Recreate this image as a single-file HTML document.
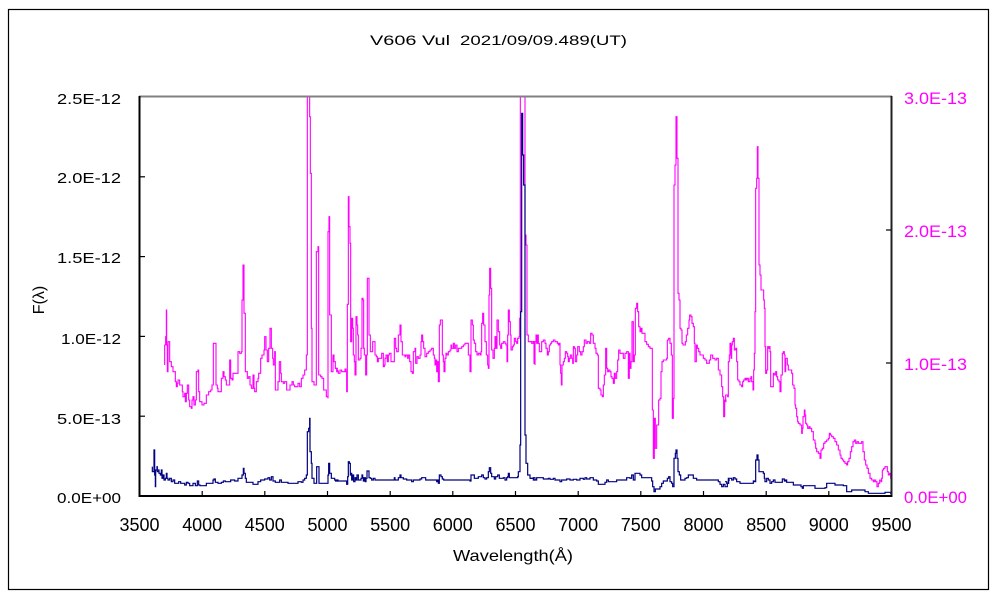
<!DOCTYPE html>
<html>
<head>
<meta charset="utf-8">
<style>
html,body{margin:0;padding:0;background:#fff;}
svg{display:block;}
text{font-family:"Liberation Sans","Noto Sans CJK JP",sans-serif;}
</style>
</head>
<body>
<svg width="1000" height="600" viewBox="0 0 1000 600" xmlns="http://www.w3.org/2000/svg">
<rect x="0" y="0" width="1000" height="600" fill="#fff"/>
<rect x="8.5" y="9.5" width="980" height="580" fill="none" stroke="#000" stroke-width="1.2"/>

<!-- Title -->
<text x="370" y="45" font-size="14" textLength="80" lengthAdjust="spacingAndGlyphs" fill="#000">V606 Vul</text>
<text x="460" y="45" font-size="14" textLength="167" lengthAdjust="spacingAndGlyphs" fill="#000">2021/09/09.489(UT)</text>

<!-- Left axis labels -->
<g font-size="15" fill="#000" text-anchor="end">
<text x="121" y="104" textLength="64" lengthAdjust="spacingAndGlyphs">2.5E-12</text>
<text x="121" y="183" textLength="64" lengthAdjust="spacingAndGlyphs">2.0E-12</text>
<text x="121" y="263" textLength="64" lengthAdjust="spacingAndGlyphs">1.5E-12</text>
<text x="121" y="344" textLength="60" lengthAdjust="spacingAndGlyphs">1.0E-12</text>
<text x="121" y="424" textLength="64" lengthAdjust="spacingAndGlyphs">5.0E-13</text>
<text x="121" y="503" textLength="64" lengthAdjust="spacingAndGlyphs">0.0E+00</text>
</g>

<!-- Right axis labels -->
<g font-size="17" fill="#ff00ff">
<text x="904" y="104" textLength="63" lengthAdjust="spacingAndGlyphs">3.0E-13</text>
<text x="904" y="237" textLength="63" lengthAdjust="spacingAndGlyphs">2.0E-13</text>
<text x="904" y="370" textLength="63" lengthAdjust="spacingAndGlyphs">1.0E-13</text>
<text x="904" y="503" textLength="63" lengthAdjust="spacingAndGlyphs">0.0E+00</text>
</g>

<!-- X axis labels -->
<g font-size="18" fill="#000" text-anchor="middle">
<text x="139.5" y="531" textLength="40" lengthAdjust="spacingAndGlyphs">3500</text>
<text x="202.2" y="531" textLength="40" lengthAdjust="spacingAndGlyphs">4000</text>
<text x="264.8" y="531" textLength="40" lengthAdjust="spacingAndGlyphs">4500</text>
<text x="327.5" y="531" textLength="40" lengthAdjust="spacingAndGlyphs">5000</text>
<text x="390.2" y="531" textLength="40" lengthAdjust="spacingAndGlyphs">5500</text>
<text x="452.8" y="531" textLength="40" lengthAdjust="spacingAndGlyphs">6000</text>
<text x="515.5" y="531" textLength="40" lengthAdjust="spacingAndGlyphs">6500</text>
<text x="578.2" y="531" textLength="40" lengthAdjust="spacingAndGlyphs">7000</text>
<text x="640.8" y="531" textLength="40" lengthAdjust="spacingAndGlyphs">7500</text>
<text x="703.5" y="531" textLength="40" lengthAdjust="spacingAndGlyphs">8000</text>
<text x="766.2" y="531" textLength="40" lengthAdjust="spacingAndGlyphs">8500</text>
<text x="828.8" y="531" textLength="40" lengthAdjust="spacingAndGlyphs">9000</text>
<text x="891.5" y="531" textLength="40" lengthAdjust="spacingAndGlyphs">9500</text>
</g>

<!-- Axis titles -->
<text x="453" y="561" font-size="16" fill="#000" textLength="120" lengthAdjust="spacingAndGlyphs">Wavelength(Å)</text>
<text transform="translate(44,300) rotate(-90)" x="0" y="0" font-size="16" fill="#000" text-anchor="middle">F(λ)</text>

<defs>
<clipPath id="pc"><rect x="140" y="97" width="751" height="399"/></clipPath>
</defs>

<g clip-path="url(#pc)" fill="none" stroke-linejoin="miter">
<!-- Segment 1 -->
<g transform="translate(138,95) scale(0.33333)">
<path vector-effect="non-scaling-stroke" stroke="#ff00ff" stroke-width="1.1" d="M80 810 V750 H83 V725 H85 V645 H86 V750 H88 V830 H90 V740 H95 V800 H100 V815 H105 V830 H110 V830 H112 V860 H115 V875 H118 V865 H120 V855 H125 V870 H130 V870 H133 V890 H135 V905 H140 V895 H142 V920 H145 V895 H148 V870 H152 V915 H155 V935 H160 V940 H162 V915 H165 V905 H168 V930 H172 V915 H175 V830 H180 V825 H182 V890 H185 V920 H192 V930 H198 V925 H205 V900 H212 V890 H218 V885 H222 V870 H226 V745 H232 V745 H234 V870 H238 V880 H240 V890 H248 V890 H250 V850 H255 V830 H258 V845 H262 V855 H265 V870 H272 V870 H275 V795 H278 V850 H282 V855 H285 V835 H292 V835 H300 V770 H305 V775 H310 V770 H312 V615 H315 V510 H318 V655 H322 V830 H328 V850 H332 V845 H336 V870 H340 V880 H345 V840 H348 V880 H350 V890 H355 V860 H360 V850 H362 V835 H368 V790 H372 V780 H378 V765 H380 V725 H384 V765 H388 V800 H392 V760 H396 V700 H400 V760 H404 V790 H406 V810 H410 V770 H412 V885 H418 V885 H420 V860 H424 V800 H428 V835 H430 V860 H436 V865 H440 V860 H446 V885 H452 V885 H456 V870 H462 V860 H466 V870 H470 V875 H480 V865 H485 V875 H490 V850 H495 V840 H500 V825 H505 V780 H508 V-10 H515 V65 H517 V235 H520 V700 H522 V860 H528 V870 H532 V870 H535 V470 H540 V455 H542 V840 H548 V845 H552 V850 H557 V885 H562 V885 H565 V905 H570 V910 V410 H573 V365 H575 V660 H580 V830 H585 V780 H588 V800 H592 V820 H598 V830 H600 V825"/>
<path vector-effect="non-scaling-stroke" stroke="#000080" stroke-width="1.2" d="M43 1115 V1130 H47 V1130 H48 V1065 H50 V1140 H52 V1175 H53 V1125 H57 V1115 H58 V1130 H62 V1125 H63 V1135 H67 V1140 H70 V1125 H72 V1150 H75 V1140 H78 V1155 H82 V1150 H85 V1135 H87 V1150 H90 V1155 H95 V1150 H100 V1160 H105 V1155 H110 V1165 H122 V1160 H128 V1165 H140 V1170 H145 V1162 H150 V1165 H155 V1172 H165 V1165 H172 V1172 H178 V1158 H182 V1170 H186 V1172 H205 V1165 H225 V1155 H228 V1152 H232 V1162 H240 V1165 H250 V1162 H256 V1158 H262 V1160 H278 V1155 H290 V1158 H300 V1150 H312 V1140 H316 V1120 H318 V1135 H322 V1150 H325 V1162 H345 V1168 H360 V1160 H368 V1155 H380 V1152 H390 V1148 H395 V1155 H400 V1145 H405 V1158 H412 V1162 H425 V1155 H430 V1162 H450 V1165 H480 V1160 H490 V1162 H495 V1155 H500 V1150 H505 V1140 H508 V1010 H512 V1000 H515 V970 H516 V1070 H520 V1105 H522 V1150 H528 V1165 H536 V1115 H542 V1115 H543 V1165 H570 V1140 H572 V1105 H575 V1135 H580 V1150 H590 V1155 H600 V1160"/>
</g>
<!-- Segment 2 -->
<g transform="translate(335,95) scale(0.33333)">
<path vector-effect="non-scaling-stroke" stroke="#ff00ff" stroke-width="1.1" d="M0 820 H5 V830 H10 V835 H15 V825 H20 V830 H30 V822 H33 V830 H35 V890 H37 V628 H40 V305 H42 V395 H45 V445 H47 V740 H50 V670 H53 V700 H55 V780 H58 V800 H60 V840 H63 V665 H66 V690 H68 V720 H70 V795 H75 V790 H78 V760 H81 V610 H84 V615 H86 V760 H88 V780 H92 V840 H95 V780 H97 V550 H100 V550 H102 V720 H106 V770 H113 V740 H117 V740 H120 V780 H124 V785 H127 V800 H130 V790 H140 V775 H145 V815 H148 V810 H150 V790 H153 V780 H157 V800 H160 V780 H163 V775 H168 V800 H178 V730 H182 V760 H185 V770 H190 V720 H195 V690 H198 V740 H202 V780 H210 V785 H213 V780 H218 V790 H220 V780 H224 V800 H228 V830 H232 V835 H235 V770 H240 V760 H242 V805 H246 V785 H250 V790 H255 V780 H258 V740 H260 V720 H263 V740 H266 V760 H270 V785 H275 V775 H280 V770 H285 V765 H290 V760 H295 V780 H298 V790 H300 V810 H302 V795 H305 V830 H308 V800 H310 V860 H313 V690 H316 V675 H322 V780 H325 V800 H327 V830 H330 V790 H333 V775 H336 V780 H340 V770 H345 V765 H348 V750 H350 V760 H355 V745 H358 V760 H362 V750 H366 V770 H370 V760 H380 V755 H385 V750 H390 V745 H400 V780 H405 V830 H408 V675 H412 V690 H415 V735 H418 V745 H422 V770 H426 V780 H430 V775 H435 V780 H438 V770 H440 V685 H443 V655 H446 V690 H450 V740 H454 V780 H458 V810 H460 V820 H462 V600 H464 V520 H467 V580 H470 V765 H474 V790 H478 V760 H480 V725 H483 V760 H486 V675 H490 V710 H494 V750 H497 V760 H500 V745 H505 V740 H510 V745 H513 V750 H516 V800 H518 V720 H520 V645 H523 V680 H526 V720 H528 V765 H532 V755 H535 V750 H538 V730 H542 V740 H545 V745 H548 V730 H552 V725 H554 V670 H556 V-10 H570 V420 H573 V450 H576 V720 H580 V740 H597 V745 H600 V810"/>
<path vector-effect="non-scaling-stroke" stroke="#000080" stroke-width="1.2" d="M0 1158 H35 V1168 H38 V1145 H40 V1100 H43 V1105 H46 V1140 H48 V1135 H50 V1155 H53 V1140 H56 V1160 H60 V1148 H63 V1155 H66 V1140 H70 V1155 H78 V1150 H81 V1140 H83 V1148 H85 V1158 H88 V1148 H91 V1160 H93 V1150 H96 V1128 H100 V1128 H102 V1148 H106 V1150 H110 V1155 H115 V1150 H120 V1155 H178 V1148 H180 V1155 H190 V1148 H195 V1140 H198 V1148 H205 V1152 H215 V1155 H230 V1160 H235 V1155 H255 V1152 H260 V1148 H272 V1155 H305 V1160 H308 V1155 H310 V1165 H313 V1140 H318 V1145 H322 V1152 H326 V1155 H405 V1158 H408 V1140 H418 V1150 H430 V1145 H440 V1140 H445 V1148 H450 V1152 H455 V1148 H460 V1130 H463 V1118 H467 V1135 H470 V1145 H478 V1152 H482 V1145 H488 V1140 H493 V1150 H505 V1148 H510 V1155 H515 V1148 H518 V1145 H520 V1135 H523 V1148 H540 V1148 H548 V1145 H550 V1130 H555 V1050 H557 V650 H560 V55 H563 V180 H566 V270 H570 V1020 H573 V1105 H578 V1140 H585 V1150 H595 V1155 H600 V1155"/>
</g>
<!-- Segment 3 -->
<g transform="translate(530,95) scale(0.33333)">
<path vector-effect="non-scaling-stroke" stroke="#ff00ff" stroke-width="1.1" d="M0 740 H5 V745 H10 V740 H12 V805 H15 V740 H18 V720 H20 V745 H22 V720 H25 V745 H28 V770 H32 V770 H35 V740 H40 V735 H45 V745 H48 V760 H52 V780 H55 V770 H58 V750 H62 V745 H65 V740 H70 V735 H75 V740 H82 V745 H85 V750 H88 V745 H90 V810 H92 V835 H94 V870 H96 V810 H100 V800 H103 V790 H106 V770 H110 V775 H113 V785 H115 V800 H118 V790 H121 V780 H125 V790 H128 V805 H130 V755 H133 V760 H136 V800 H140 V780 H143 V755 H148 V770 H152 V780 H156 V770 H160 V755 H163 V735 H168 V745 H172 V740 H178 V745 H182 V715 H186 V720 H190 V745 H195 V760 H198 V775 H202 V780 H205 V880 H210 V885 H213 V900 H217 V905 H220 V870 H223 V840 H227 V760 H230 V820 H233 V830 H236 V825 H240 V830 H243 V845 H246 V850 H250 V865 H253 V835 H256 V850 H260 V830 H263 V795 H266 V765 H270 V775 H280 V790 H285 V775 H290 V770 H295 V850 H298 V775 H300 V820 H303 V800 H306 V680 H310 V800 H313 V780 H316 V640 H320 V625 H323 V650 H326 V695 H330 V710 H333 V700 H336 V715 H345 V740 H350 V748 H355 V755 H360 V760 H367 V945 H370 V1090 H373 V970 H376 V1060 H380 V990 H386 V915 H390 V910 H393 V830 H396 V800 H400 V795 H410 V790 H412 V735 H416 V730 H420 V745 H424 V780 H427 V970 H430 V910 H432 V270 H435 V210 H438 V65 H441 V190 H444 V595 H447 V615 H450 V700 H453 V705 H456 V745 H459 V750 H466 V740 H469 V720 H473 V700 H477 V675 H479 V660 H483 V665 H486 V685 H490 V695 H493 V745 H495 V800 H499 V750 H502 V760 H506 V770 H510 V780 H520 V790 H525 V795 H530 V805 H538 V795 H542 V780 H548 V790 H555 V795 H560 V790 H565 V825 H570 V840 H575 V875 H578 V905 H581 V965 H584 V915 H588 V920"/>
<path vector-effect="non-scaling-stroke" stroke="#000080" stroke-width="1.2" d="M0 1150 H10 V1148 H15 V1155 H20 V1148 H40 V1152 H55 V1150 H60 V1153 H70 V1150 H75 V1155 H90 V1160 H95 V1155 H110 V1152 H120 V1155 H130 V1153 H140 V1155 H150 V1150 H160 V1153 H165 V1148 H170 V1152 H180 V1148 H190 V1155 H200 V1158 H205 V1168 H225 V1162 H230 V1155 H235 V1160 H255 V1160 H260 V1155 H290 V1148 H300 V1150 H305 V1140 H310 V1155 H315 V1135 H328 V1135 H330 V1140 H335 V1148 H365 V1158 H368 V1175 H372 V1190 H376 V1182 H390 V1175 H395 V1165 H400 V1158 H412 V1150 H416 V1145 H420 V1160 H425 V1165 H428 V1175 H432 V1090 H436 V1075 H438 V1065 H441 V1090 H444 V1130 H448 V1140 H452 V1155 H465 V1150 H470 V1148 H475 V1140 H490 V1150 H500 V1155 H565 V1160 H570 V1168 H575 V1175 H580 V1168 H585 V1175 H592 V1165 H596 V1155 H600 V1155"/>
</g>
<!-- Segment 4 -->
<g transform="translate(725,95) scale(0.33333)">
<path vector-effect="non-scaling-stroke" stroke="#ff00ff" stroke-width="1.1" d="M0 920 H2 V900 H8 V905 H10 V800 H13 V780 H15 V745 H18 V790 H20 V750 H22 V740 H25 V730 H28 V765 H32 V760 H35 V800 H38 V855 H42 V860 H45 V870 H50 V875 H53 V860 H56 V855 H60 V850 H63 V855 H66 V850 H70 V860 H75 V850 H78 V845 H80 V860 H84 V885 H86 V825 H88 V775 H90 V650 H92 V280 H95 V250 H97 V155 H99 V250 H102 V510 H105 V540 H108 V585 H112 V585 H116 V615 H118 V640 H120 V755 H122 V835 H125 V825 H128 V755 H130 V760 H133 V755 H135 V770 H137 V875 H142 V875 H145 V835 H148 V840 H152 V830 H155 V845 H158 V855 H162 V860 H165 V890 H168 V840 H172 V775 H175 V770 H178 V780 H180 V830 H182 V790 H185 V790 H187 V810 H190 V825 H200 V835 H203 V870 H207 V880 H210 V930 H212 V940 H215 V965 H218 V980 H220 V985 H225 V990 H230 V1015 H232 V1000 H234 V965 H238 V945 H240 V960 H242 V985 H245 V990 H248 V1000 H252 V995 H255 V1000 H260 V1010 H265 V1035 H270 V1045 H272 V1060 H275 V1070 H280 V1075 H285 V1090 H288 V1065 H292 V1060 H296 V1045 H300 V1040 H305 V1035 H310 V1030 H313 V1015 H316 V1020 H320 V1025 H325 V1030 H330 V1040 H335 V1050 H340 V1065 H345 V1080 H348 V1090 H352 V1095 H356 V1100 H360 V1105 H365 V1110 H368 V1100 H372 V1090 H376 V1070 H380 V1055 H384 V1040 H388 V1035 H392 V1045 H396 V1040 H400 V1045 H410 V1040 H414 V1070 H418 V1095 H422 V1110 H426 V1120 H430 V1135 H435 V1150 H440 V1155 H445 V1160 H448 V1155 H452 V1160 H456 V1175 H460 V1165 H464 V1155 H468 V1160 H470 V1150 H472 V1125 H476 V1120 H480 V1115 H484 V1115 H487 V1130 H490 V1140 H494 V1135 H497 V1150 H500 V1158 H502 V1158"/>
<path vector-effect="non-scaling-stroke" stroke="#000080" stroke-width="1.2" d="M0 1160 H5 V1165 H10 V1150 H20 V1155 H25 V1148 H30 V1152 H35 V1160 H45 V1165 H85 V1158 H88 V1160 H92 V1095 H96 V1080 H99 V1095 H102 V1130 H115 V1135 H118 V1150 H120 V1160 H125 V1150 H130 V1155 H135 V1165 H140 V1160 H145 V1155 H150 V1162 H172 V1152 H178 V1158 H182 V1155 H185 V1162 H205 V1170 H228 V1175 H232 V1180 H235 V1172 H270 V1180 H300 V1178 H305 V1165 H330 V1170 H355 V1172 H365 V1190 H380 V1185 H410 V1185 H420 V1190 H430 V1195 H480 V1192 H497 V1195 H502 V1197"/>
</g>
</g>

<!-- Frame -->
<line x1="139" y1="96.5" x2="892" y2="96.5" stroke="#808080" stroke-width="2"/>
<line x1="139.5" y1="96" x2="139.5" y2="497" stroke="#000" stroke-width="2"/>
<line x1="891.5" y1="96" x2="891.5" y2="497" stroke="#202020" stroke-width="2"/>
<line x1="139" y1="496" x2="892" y2="496" stroke="#000" stroke-width="2"/>

<!-- Ticks -->
<g stroke="#000" stroke-width="1.2">
<line x1="140" y1="176.8" x2="145" y2="176.8"/>
<line x1="140" y1="256.6" x2="145" y2="256.6"/>
<line x1="140" y1="336.4" x2="145" y2="336.4"/>
<line x1="140" y1="416.2" x2="145" y2="416.2"/>
<line x1="886" y1="230" x2="891" y2="230"/>
<line x1="886" y1="363" x2="891" y2="363"/>
<line x1="202.2" y1="491" x2="202.2" y2="496"/>
<line x1="264.8" y1="491" x2="264.8" y2="496"/>
<line x1="327.5" y1="491" x2="327.5" y2="496"/>
<line x1="390.2" y1="491" x2="390.2" y2="496"/>
<line x1="452.8" y1="491" x2="452.8" y2="496"/>
<line x1="515.5" y1="491" x2="515.5" y2="496"/>
<line x1="578.2" y1="491" x2="578.2" y2="496"/>
<line x1="640.8" y1="491" x2="640.8" y2="496"/>
<line x1="703.5" y1="491" x2="703.5" y2="496"/>
<line x1="766.2" y1="491" x2="766.2" y2="496"/>
<line x1="828.8" y1="491" x2="828.8" y2="496"/>
</g>
</svg>
</body>
</html>
